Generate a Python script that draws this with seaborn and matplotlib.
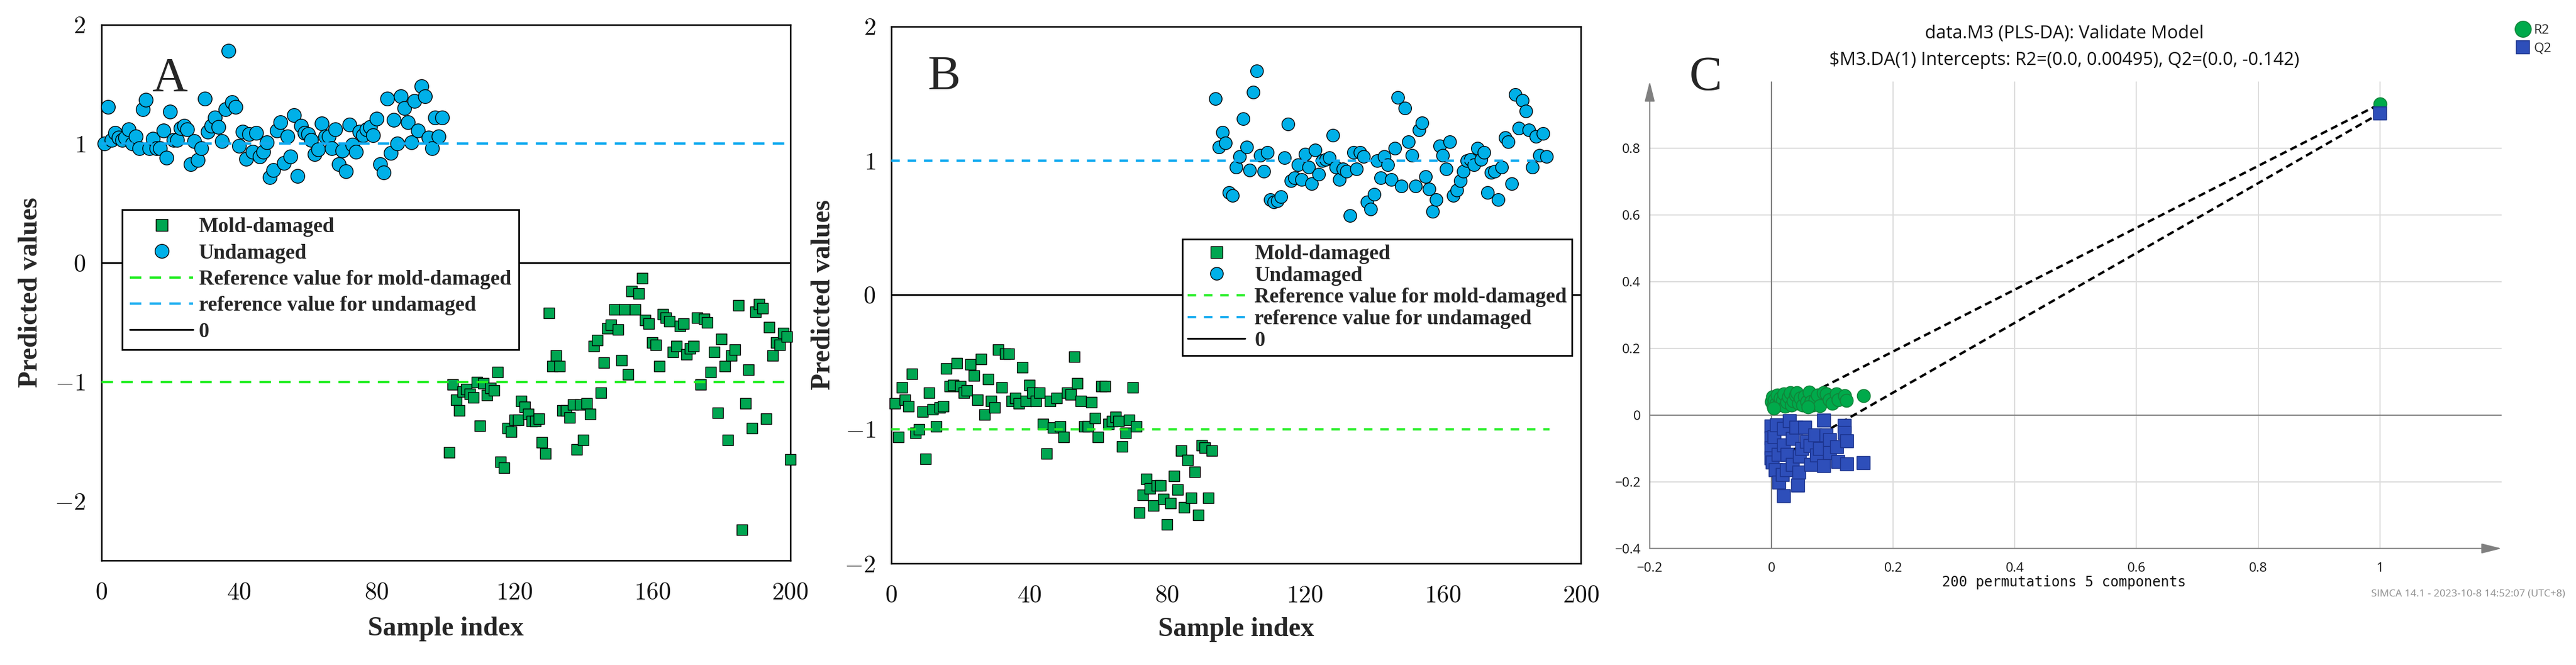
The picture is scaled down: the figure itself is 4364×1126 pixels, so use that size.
import numpy as np
import pandas as pd
import seaborn as sns
import matplotlib.pyplot as plt
from matplotlib.lines import Line2D
from matplotlib.ticker import FixedLocator

# ---------------- panel A (predicted values per sample) ----------------
a_undamaged = [1.00, 1.31, 1.03, 1.09, 1.05, 1.03, 1.05, 1.12, 1.00, 1.06,
               0.96, 1.29, 1.37, 0.96, 1.04, 0.96, 0.96, 1.11, 0.88, 1.27,
               1.03, 1.03, 1.13, 1.15, 1.12, 0.83, 1.02, 0.86, 0.96, 1.38,
               1.10, 1.15, 1.22, 1.14, 1.02, 1.29, 1.78, 1.35, 1.31, 0.98,
               1.10, 0.87, 1.08, 0.93, 1.09, 0.89, 0.93, 1.01, 0.72, 0.78,
               1.11, 1.18, 0.84, 1.06, 0.89, 1.24, 0.73, 1.15, 1.09, 1.08,
               1.03, 0.91, 0.95, 1.17, 1.06, 1.06, 0.96, 1.12, 0.83, 0.94,
               0.77, 1.16, 0.99, 0.93, 1.10, 1.07, 1.12, 1.14, 1.07, 1.21,
               0.83, 0.76, 1.38, 0.92, 1.20, 1.00, 1.40, 1.30, 1.18, 1.01,
               1.36, 1.11, 1.48, 1.40, 1.05, 0.96, 1.22, 1.06, 1.22]
a_mold = [-1.59, -1.02, -1.15, -1.24, -1.08, -1.06, -1.10, -1.13, -1.00, -1.37,
          -1.01, -1.11, -1.05, -1.07, -0.92, -1.67, -1.72, -1.39, -1.42, -1.32,
          -1.32, -1.16, -1.21, -1.27, -1.33, -1.33, -1.31, -1.51, -1.60, -0.42,
          -0.87, -0.78, -0.87, -1.24, -1.24, -1.30, -1.19, -1.57, -1.19, -1.49,
          -1.18, -1.27, -0.70, -0.65, -1.09, -0.84, -0.55, -0.52, -0.39, -0.56,
          -0.82, -0.39, -0.94, -0.24, -0.39, -0.26, -0.13, -0.48, -0.51, -0.67,
          -0.69, -0.87, -0.43, -0.46, -0.49, -0.75, -0.70, -0.53, -0.51, -0.77,
          -0.72, -0.70, -0.46, -1.02, -0.47, -0.50, -0.92, -0.75, -1.26, -0.64,
          -0.87, -1.49, -0.78, -0.73, -0.36, -2.24, -1.18, -0.90, -1.39, -0.41,
          -0.35, -0.38, -1.31, -0.54, -0.78, -0.67, -0.69, -0.59, -0.62, -1.65]
a_undamaged_first = 1
a_mold_first = 101

# ---------------- panel B ----------------
b_mold = [-0.81, -1.06, -0.69, -0.78, -0.83, -0.59, -1.03, -1.00, -0.87, -1.22,
          -0.73, -0.85, -0.98, -0.84, -0.83, -0.55, -0.68, -0.67, -0.51, -0.68,
          -0.73, -0.71, -0.52, -0.60, -0.78, -0.48, -0.89, -0.63, -0.79, -0.84,
          -0.41, -0.69, -0.44, -0.44, -0.79, -0.77, -0.81, -0.54, -0.79, -0.67,
          -0.73, -0.79, -0.73, -0.96, -1.18, -0.79, -0.99, -0.77, -0.98, -1.06,
          -0.73, -0.74, -0.46, -0.66, -0.79, -0.98, -0.98, -0.80, -0.92, -1.06,
          -0.68, -0.68, -0.96, -0.94, -0.91, -0.94, -1.13, -1.03, -0.93, -0.69,
          -0.98, -1.62, -1.49, -1.37, -1.44, -1.57, -1.42, -1.42, -1.52, -1.71,
          -1.55, -1.35, -1.45, -1.16, -1.58, -1.23, -1.51, -1.32, -1.64, -1.12,
          -1.14, -1.51, -1.16]
b_undamaged = [1.46, 1.10, 1.21, 1.13, 0.76, 0.74, 0.95, 1.03, 1.31, 1.10,
               0.93, 1.51, 1.67, 1.04, 0.92, 1.06, 0.71, 0.69, 0.70, 0.73,
               1.02, 1.27, 0.85, 0.87, 0.97, 0.86, 1.05, 0.95, 0.83, 1.08,
               0.90, 1.00, 1.01, 1.02, 1.19, 0.95, 0.86, 0.94, 0.92, 0.59,
               1.06, 0.94, 1.06, 1.03, 0.69, 0.64, 0.75, 1.00, 0.87, 1.03,
               0.97, 0.86, 1.09, 1.47, 0.81, 1.39, 1.14, 1.04, 0.81, 1.23,
               1.28, 0.88, 0.79, 0.62, 0.71, 1.11, 1.04, 0.94, 1.14, 0.74,
               0.78, 0.85, 0.92, 1.00, 1.01, 0.97, 1.09, 1.01, 1.06, 0.76,
               0.91, 0.92, 0.71, 0.95, 1.17, 1.14, 0.83, 1.49, 1.24, 1.45,
               1.37, 1.23, 0.95, 1.18, 1.04, 1.20, 1.03]
b_mold_first = 1
b_undamaged_first = 94

ref_mold = -1
ref_undamaged = 1
legend_labels = ["Mold-damaged", "Undamaged", "Reference value for mold-damaged",
                 "reference value for undamaged", "0"]
ab_xticks = [0, 40, 80, 120, 160, 200]
ab_xticklabels = ["$0$", "$40$", "$80$", "$120$", "$160$", "$200$"]
ab_yticks = [-2, -1, 0, 1, 2]
ab_yticklabels = ["$-2$", "$-1$", "$0$", "$1$", "$2$"]

# ---------------- panel C (permutation test) ----------------
r2_perm_x = [0.000, 0.002, 0.003, 0.005, 0.008, 0.010, 0.012, 0.015, 0.018, 0.020,
             0.022, 0.025, 0.028, 0.031, 0.033, 0.036, 0.040, 0.042, 0.045, 0.048,
             0.051, 0.054, 0.058, 0.062, 0.065, 0.068, 0.072, 0.076, 0.080, 0.085,
             0.090, 0.095, 0.100, 0.107, 0.110, 0.120, 0.123, 0.151, 0.004, 0.060]
r2_perm_y = [0.040, 0.055, 0.028, 0.046, 0.034, 0.060, 0.030, 0.050, 0.044, 0.064,
             0.026, 0.038, 0.055, 0.067, 0.030, 0.042, 0.060, 0.067, 0.035, 0.050,
             0.029, 0.056, 0.040, 0.068, 0.040, 0.030, 0.046, 0.060, 0.028, 0.066,
             0.064, 0.046, 0.035, 0.064, 0.046, 0.058, 0.043, 0.058, 0.020, 0.025]
q2_perm_x = [0.000, 0.000, 0.000, 0.000, 0.002, 0.005, 0.007, 0.009, 0.012, 0.013,
             0.018, 0.020, 0.020, 0.020, 0.025, 0.026, 0.030, 0.035, 0.035, 0.041,
             0.044, 0.046, 0.047, 0.050, 0.055, 0.058, 0.064, 0.065, 0.072, 0.075,
             0.080, 0.086, 0.086, 0.090, 0.096, 0.096, 0.108, 0.110, 0.120, 0.120,
             0.124, 0.124, 0.151]
q2_perm_y = [-0.035, -0.070, -0.100, -0.130, -0.143, -0.066, -0.166, -0.031, -0.119, -0.202,
             -0.180, -0.042, -0.090, -0.243, -0.166, -0.119, -0.018, -0.072, -0.149, -0.038,
             -0.212, -0.172, -0.125, -0.101, -0.037, -0.080, -0.093, -0.149, -0.060, -0.120,
             -0.101, -0.016, -0.152, -0.060, -0.075, -0.113, -0.096, -0.140, -0.032, -0.054,
             -0.078, -0.147, -0.144]
r2_model, q2_model = 0.932, 0.904
r2_intercept, q2_intercept = 0.00495, -0.142
c_xticks = [-0.2, 0, 0.2, 0.4, 0.6, 0.8, 1.0]
c_xticklabels = ["\u22120.2", "0", "0.2", "0.4", "0.6", "0.8", "1"]
c_yticks = [-0.4, -0.2, 0, 0.2, 0.4, 0.6, 0.8]
c_yticklabels = ["\u22120.4", "\u22120.2", "0", "0.2", "0.4", "0.6", "0.8"]
c_title = ["data.M3 (PLS-DA): Validate Model",
           "$M3.DA(1) Intercepts: R2=(0.0, 0.00495), Q2=(0.0, -0.142)"]
c_xlabel = "200 permutations 5 components"
c_footer = "SIMCA 14.1 - 2023-10-8 14:52:07 (UTC+8)"

GREEN, CYAN = "#00a651", "#00b0e8"
LIME, SKY = "#22ee22", "#10aaf0"
R2_COL, Q2_COL = "#00aa4b", "#2e4fba"
SANS = "Open Sans"

sns.set_style("white")
plt.rcParams["font.family"] = ["Liberation Serif", "DejaVu Serif"]
plt.rcParams["mathtext.fontset"] = "cm"

W, H = 4364, 1126
fig = plt.figure(figsize=(W / 100, H / 100), dpi=100)


def px_axes(left, top, right, bottom):
    return fig.add_axes([left / W, 1 - bottom / H, (right - left) / W, (bottom - top) / H])


def draw_ab(ax, mold, mold_first, undamaged, undamaged_first, ylim, ref_end,
            letter, letter_pos, ylabel_x, xlabel_y, leg_anchor, leg_kw,
            sq_size, circ_size, dash):
    df_m = pd.DataFrame({"Sample index": np.arange(mold_first, mold_first + len(mold)),
                         "Predicted values": mold})
    df_u = pd.DataFrame({"Sample index": np.arange(undamaged_first, undamaged_first + len(undamaged)),
                         "Predicted values": undamaged})
    ax.axhline(0, color="black", lw=2.2, zorder=1)
    sns.scatterplot(data=df_m, x="Sample index", y="Predicted values", marker="s",
                    s=sq_size, color=GREEN, edgecolor="black", linewidth=1.0,
                    zorder=3, clip_on=False, ax=ax)
    sns.scatterplot(data=df_u, x="Sample index", y="Predicted values", marker="o",
                    s=circ_size, color=CYAN, edgecolor="black", linewidth=1.0,
                    zorder=3, clip_on=False, ax=ax)
    ax.plot([0, ref_end], [ref_mold, ref_mold], color=LIME, lw=2.8, dashes=dash, zorder=4)
    ax.plot([0, ref_end], [ref_undamaged, ref_undamaged], color=SKY, lw=2.8, dashes=dash, zorder=4)

    ax.set_xlim(0, 200)
    ax.set_ylim(*ylim)
    ax.set_xticks(ab_xticks, labels=ab_xticklabels)
    ax.set_yticks(ab_yticks, labels=ab_yticklabels)
    ax.tick_params(axis="both", direction="out", length=10, width=1.6, labelsize=30,
                   color="black", labelcolor="#111111")
    ax.tick_params(axis="x", pad=16)
    ax.tick_params(axis="y", pad=9)
    for sp in ax.spines.values():
        sp.set_visible(True)
        sp.set_color("black")
        sp.set_linewidth(1.8)

    ax.set_xlabel("Sample index", fontsize=33, fontweight="bold", va="center")
    ax.set_ylabel("Predicted values", fontsize=33, fontweight="bold", va="center")
    ax.xaxis.set_label_coords(0.5, xlabel_y)
    ax.yaxis.set_label_coords(ylabel_x, 0.5)

    ax.text(letter_pos[0], letter_pos[1], letter, transform=ax.transAxes,
            fontsize=60, ha="center", va="baseline")

    handles = [
        Line2D([], [], ls="none", marker="s", ms=np.sqrt(sq_size) * 1.1,
               mfc=GREEN, mec="black", mew=1.0),
        Line2D([], [], ls="none", marker="o", ms=np.sqrt(circ_size),
               mfc=CYAN, mec="black", mew=1.0),
        Line2D([], [], color=LIME, lw=2.8, dashes=dash),
        Line2D([], [], color=SKY, lw=2.8, dashes=dash),
        Line2D([], [], color="black", lw=2.2),
    ]
    leg = ax.legend(handles, legend_labels, loc="upper left", bbox_to_anchor=leg_anchor,
                    borderaxespad=0, frameon=True, fancybox=False, framealpha=1,
                    edgecolor="black", prop={"family": "Liberation Serif",
                                             "weight": "bold", "size": 25.5},
                    **leg_kw)
    leg.get_frame().set_linewidth(2.0)


ax_a = px_axes(171.5, 41.6, 1338.5, 949)
draw_ab(ax_a, a_mold, a_mold_first, a_undamaged, a_undamaged_first, (-2.5, 2), 200,
        "A", (0.099, 0.877), -0.1024, -0.128, (0.0304, 0.6546),
        dict(handlelength=3.0, handletextpad=0.28, borderpad=0.38, labelspacing=0.32),
        160, 285, (5.0, 3.6))

ax_b = px_axes(1510, 44.5, 2678, 954)
draw_ab(ax_b, b_mold, b_mold_first, b_undamaged, b_undamaged_first, (-2, 2), 191,
        "B", (0.077, 0.883), -0.0985, -0.123, (0.4221, 0.6031),
        dict(handlelength=2.75, handletextpad=0.45, borderpad=0.25, labelspacing=0.1),
        155, 240, (3.7, 3.4))

# ---------------- panel C ----------------
axc = px_axes(2794.8, 137.7, 4238, 928.7)
axc.set_xlim(-0.2, 1.2)
axc.set_ylim(-0.4, 1.0)
for sp in axc.spines.values():
    sp.set_visible(False)
for v in [0.2, 0.4, 0.6, 0.8, 1.0]:
    axc.axvline(v, color="#dddddd", lw=1.5, zorder=0)
for v in [-0.2, 0.2, 0.4, 0.6, 0.8]:
    axc.axhline(v, color="#dddddd", lw=1.5, zorder=0)
axc.axvline(0, color="#7f7f7f", lw=1.5, zorder=0.5)
axc.axhline(0, color="#7f7f7f", lw=1.5, zorder=0.5)

arrow = dict(arrowstyle="-|>,head_length=1.4,head_width=0.35", color="#808080",
             lw=1.5, shrinkA=0, shrinkB=0, mutation_scale=15)
axc.annotate("", xy=(1.2, -0.4), xytext=(-0.2, -0.4), arrowprops=arrow, annotation_clip=False)
axc.annotate("", xy=(-0.2, 1.0), xytext=(-0.2, -0.4), arrowprops=arrow, annotation_clip=False)

axc.plot([0, 1], [r2_intercept, r2_model], color="black", lw=2.9, dashes=(3, 1.8), zorder=2)
axc.plot([0, 1], [q2_intercept, q2_model], color="black", lw=2.9, dashes=(3, 1.8), zorder=2)

r2_df = pd.DataFrame({"x": r2_perm_x + [1.0], "y": r2_perm_y + [r2_model]})
q2_df = pd.DataFrame({"x": q2_perm_x + [1.0], "y": q2_perm_y + [q2_model]})
sns.scatterplot(data=r2_df, x="x", y="y", marker="o", s=250, color=R2_COL,
                edgecolor="#11853a", linewidth=1.2, zorder=3, ax=axc)
sns.scatterplot(data=q2_df, x="x", y="y", marker="s", s=240, color=Q2_COL,
                edgecolor="#1d3590", linewidth=1.2, zorder=3, ax=axc)
axc.set_xlabel("")
axc.set_ylabel("")

axc.xaxis.set_major_locator(FixedLocator(c_xticks))
axc.set_xticklabels(c_xticklabels)
axc.yaxis.set_major_locator(FixedLocator(c_yticks))
axc.set_yticklabels(c_yticklabels)
axc.xaxis.set_minor_locator(FixedLocator([-0.1, 0.1, 0.3, 0.5, 0.7, 0.9, 1.1]))
axc.yaxis.set_minor_locator(FixedLocator([-0.3, -0.1, 0.1, 0.3, 0.5, 0.7, 0.9]))
axc.tick_params(axis="both", which="major", direction="out", length=6, width=1.1,
                color="#808080", labelsize=16, labelcolor="#111111", labelfontfamily=SANS)
axc.tick_params(axis="both", which="minor", direction="out", length=3.5, width=1.0,
                color="#808080")
axc.tick_params(axis="x", which="major", pad=11)
axc.tick_params(axis="y", which="major", pad=5)

cx = 3497 / W
fig.text(cx, 1 - 57 / H, c_title[0], ha="center", va="center", fontsize=22,
         family=SANS, color="#111111")
fig.text(cx, 1 - 102 / H, c_title[1], ha="center", va="center", fontsize=22,
         family=SANS, color="#111111", parse_math=False)
fig.text(cx, 1 - 986 / H, c_xlabel, ha="center", va="center", fontsize=17,
         family="DejaVu Sans Mono", color="#111111")
fig.text(4346 / W, 1 - 1005 / H, c_footer, ha="right", va="center", fontsize=12.5,
         family=SANS, color="#8c8c8c")
fig.text(2889 / W, 1 - 152 / H, "C", ha="center", va="baseline", fontsize=60)

c_handles = [
    Line2D([], [], ls="none", marker="o", ms=19.5, mfc=R2_COL, mec="#11853a", mew=1.2),
    Line2D([], [], ls="none", marker="s", ms=16.5, mfc=Q2_COL, mec="#1d3590", mew=1.2),
]
axc.legend(c_handles, ["R2", "Q2"], loc="upper left", bbox_to_anchor=(4263 / W, 1 - 41 / H),
           bbox_transform=fig.transFigure, frameon=False, borderpad=0, borderaxespad=0,
           handlelength=1.0, handletextpad=0.35, labelspacing=0.42,
           prop={"family": SANS, "size": 16})

fig.savefig("out.png", dpi=100)
